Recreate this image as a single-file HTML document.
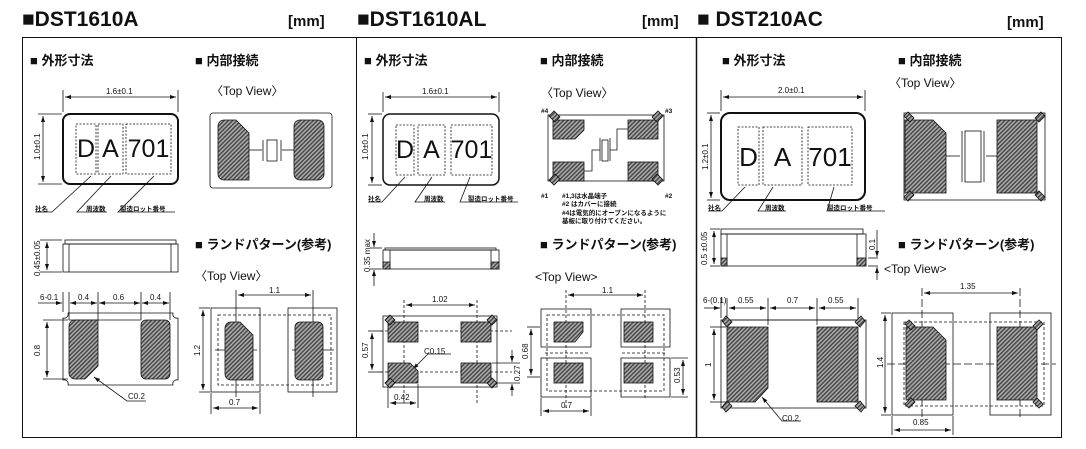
<!DOCTYPE html>
<html><head><meta charset="utf-8"><style>
html,body{margin:0;padding:0;background:#fff}
svg{display:block}
text{font-family:"Liberation Sans","Noto Sans CJK JP",sans-serif;fill:#111}
.t{font-size:21px;font-weight:bold}
.mm{font-size:15px;font-weight:bold}
.h{font-size:13px;font-weight:bold}
.tv{font-size:12px}
.d{font-size:8px}
.s{font-size:6.5px;font-weight:bold}
.big{font-size:25px;text-anchor:middle}
</style></head><body>
<svg width="1086" height="449" viewBox="0 0 1086 449" xmlns="http://www.w3.org/2000/svg">
<defs>
<pattern id="hp" width="3" height="3" patternUnits="userSpaceOnUse" patternTransform="rotate(45)">
<rect width="3" height="3" fill="#aaa"/><rect width="1.4" height="3" fill="#444"/>
</pattern>
<marker id="a" markerWidth="6" markerHeight="4" refX="6" refY="2" orient="auto-start-reverse" markerUnits="userSpaceOnUse"><path d="M0,0 L6,2 L0,4z" fill="#111"/></marker>
</defs>
<g stroke="#111" fill="none" stroke-width="1">
<rect x="22.5" y="37.5" width="1039" height="400" />
<line x1="356.5" y1="37" x2="356.5" y2="437"/>
<line x1="696.5" y1="37" x2="696.5" y2="437" stroke-width="1.5"/>
</g>
<text x="22" y="26" class="t">■DST1610A</text><text x="288" y="26" class="mm">[mm]</text>
<text x="357" y="26" class="t">■DST1610AL</text><text x="642" y="26" class="mm">[mm]</text>
<text x="697" y="26" class="t">■ DST210AC</text><text x="1007" y="27" class="mm">[mm]</text>

<text x="30" y="65" class="h">■ 外形寸法</text><text x="195" y="65" class="h">■ 内部接続</text>
<text x="364" y="65" class="h">■ 外形寸法</text><text x="540" y="65" class="h">■ 内部接続</text>
<text x="722" y="65" class="h">■ 外形寸法</text><text x="898" y="65" class="h">■ 内部接続</text>
<text x="195" y="249" class="h">■ ランドパターン(参考)</text>
<text x="540" y="249" class="h">■ ランドパターン(参考)</text>
<text x="898" y="249" class="h">■ ランドパターン(参考)</text>
<text x="211" y="95" class="tv">〈Top View〉</text>
<text x="195" y="280" class="tv">〈Top View〉</text>
<text x="541" y="97" class="tv">〈Top View〉</text>
<text x="535" y="281" class="tv">&lt;Top View&gt;</text>
<text x="889" y="87" class="tv">〈Top View〉</text>
<text x="884" y="273" class="tv">&lt;Top View&gt;</text>

<g stroke="#111" fill="none" stroke-width="0.8">
<rect x="63" y="114" width="115" height="70" rx="7" stroke-width="2"/>
<line x1="63" y1="90" x2="63" y2="112"/><line x1="178" y1="90" x2="178" y2="112"/>
<line x1="65" y1="97" x2="176" y2="97" marker-start="url(#a)" marker-end="url(#a)"/>
<line x1="38" y1="114" x2="62" y2="114"/><line x1="38" y1="184" x2="62" y2="184"/>
<line x1="43" y1="116" x2="43" y2="182" marker-start="url(#a)" marker-end="url(#a)"/>
<g stroke-dasharray="2,1.5"><rect x="76" y="124" width="20" height="50"/><rect x="98" y="124" width="25" height="50"/><rect x="126" y="124" width="45" height="50"/></g>
<path d="M91,176 L52,212 H35 M111,176 L77,212 H107 M154,176 L118,212 H175"/>
<rect x="63" y="244" width="115" height="28"/><rect x="65" y="240" width="111" height="4"/>
<line x1="69" y1="244" x2="69" y2="272"/><line x1="171" y1="244" x2="171" y2="272"/>
<line x1="40" y1="240" x2="62" y2="240"/><line x1="40" y1="272" x2="62" y2="272"/>
<line x1="47" y1="242" x2="47" y2="270" marker-start="url(#a)" marker-end="url(#a)"/>
<path d="M68,313 H173 A4,4 0 0 0 178,318 V380 A4,4 0 0 0 173,385 H68 A4,4 0 0 0 63,380 V318 A4,4 0 0 0 68,313Z"/>
<line x1="69" y1="320" x2="141" y2="320"/>
<line x1="63" y1="292" x2="63" y2="312"/><line x1="69" y1="292" x2="69" y2="320"/><line x1="98" y1="292" x2="98" y2="320"/><line x1="141" y1="292" x2="141" y2="320"/><line x1="170" y1="292" x2="170" y2="320"/>
<line x1="38" y1="303" x2="62" y2="303" marker-end="url(#a)"/>
<line x1="70" y1="303" x2="97" y2="303" marker-start="url(#a)" marker-end="url(#a)"/>
<line x1="99" y1="303" x2="140" y2="303" marker-start="url(#a)" marker-end="url(#a)"/>
<line x1="142" y1="303" x2="169" y2="303" marker-start="url(#a)" marker-end="url(#a)"/>
<line x1="43" y1="320" x2="68" y2="320"/><line x1="43" y1="379" x2="68" y2="379"/>
<line x1="47" y1="322" x2="47" y2="377" marker-start="url(#a)" marker-end="url(#a)"/>
<path d="M94,377 L127,401 H146" marker-start="url(#a)"/>
<rect x="210" y="113" width="122" height="75" rx="3"/>
<line x1="249" y1="150" x2="262" y2="150"/><line x1="282" y1="150" x2="294" y2="150"/>
<line x1="263" y1="140" x2="263" y2="161"/><line x1="281" y1="140" x2="281" y2="161"/><rect x="267" y="140" width="10" height="21"/>
<rect x="211" y="308" width="49" height="84"/><rect x="288" y="308" width="49" height="84"/>
<rect x="218" y="315" width="113" height="70" stroke-dasharray="3,2"/>
<line x1="236" y1="290" x2="236" y2="397"/><line x1="313" y1="290" x2="313" y2="397"/>
<line x1="215" y1="350" x2="257" y2="350"/><line x1="292" y1="350" x2="334" y2="350"/>
<line x1="238" y1="295" x2="311" y2="295" marker-start="url(#a)" marker-end="url(#a)"/>
<line x1="199" y1="308" x2="210" y2="308"/><line x1="199" y1="392" x2="210" y2="392"/>
<line x1="203" y1="310" x2="203" y2="390" marker-start="url(#a)" marker-end="url(#a)"/>
<line x1="211" y1="393" x2="211" y2="414"/><line x1="260" y1="393" x2="260" y2="414"/>
<line x1="213" y1="408" x2="258" y2="408" marker-start="url(#a)" marker-end="url(#a)"/>

<rect x="383" y="114" width="116" height="71" rx="7" stroke-width="1.5"/>
<line x1="383" y1="92" x2="383" y2="112"/><line x1="499" y1="92" x2="499" y2="112"/>
<line x1="385" y1="97" x2="497" y2="97" marker-start="url(#a)" marker-end="url(#a)"/>
<line x1="368" y1="114" x2="382" y2="114"/><line x1="368" y1="185" x2="382" y2="185"/>
<line x1="372" y1="116" x2="372" y2="183" marker-start="url(#a)" marker-end="url(#a)"/>
<g stroke-dasharray="2,1.5"><rect x="396" y="125" width="18" height="50"/><rect x="418" y="125" width="27" height="50"/><rect x="451" y="125" width="41" height="50"/></g>
<path d="M405,177 L382,202 H368 M432,177 L415,202 H445 M470,177 L460,202 H518"/>
<rect x="383" y="250" width="116" height="19"/><rect x="385" y="248" width="111" height="2"/>
<line x1="390" y1="250" x2="390" y2="269"/><line x1="491" y1="250" x2="491" y2="269"/>
<line x1="370" y1="248" x2="382" y2="248"/><line x1="370" y1="269" x2="382" y2="269"/>
<line x1="374" y1="233" x2="374" y2="247" marker-end="url(#a)"/><line x1="374" y1="286" x2="374" y2="270" marker-end="url(#a)"/>
<rect x="383" y="316" width="114" height="71"/>
<g stroke-dasharray="3,2"><line x1="404" y1="300" x2="404" y2="405"/><line x1="477" y1="300" x2="477" y2="405"/><line x1="380" y1="331" x2="512" y2="331"/><line x1="380" y1="372" x2="512" y2="372"/></g>
<line x1="406" y1="305" x2="475" y2="305" marker-start="url(#a)" marker-end="url(#a)"/>
<line x1="368" y1="331" x2="382" y2="331"/><line x1="368" y1="372" x2="382" y2="372"/>
<line x1="372" y1="333" x2="372" y2="370" marker-start="url(#a)" marker-end="url(#a)"/>
<line x1="492" y1="363" x2="520" y2="363"/><line x1="492" y1="383" x2="520" y2="383"/>
<line x1="512" y1="350" x2="512" y2="362" marker-end="url(#a)"/><line x1="512" y1="396" x2="512" y2="384" marker-end="url(#a)"/>
<line x1="388" y1="384" x2="388" y2="408"/><line x1="418" y1="384" x2="418" y2="408"/>
<line x1="390" y1="403" x2="416" y2="403" marker-start="url(#a)" marker-end="url(#a)"/>
<path d="M413,369 L428,354 H451" marker-start="url(#a)"/>
<rect x="548" y="115" width="116" height="66"/>
<path d="M584,171 H592 V150 H600 M610,150 H617 V129 H628"/>
<line x1="600" y1="138" x2="600" y2="161"/><line x1="610" y1="138" x2="610" y2="161"/><rect x="602" y="140" width="6" height="21"/>
<rect x="541" y="309" width="50" height="38"/><rect x="621" y="309" width="49" height="38"/>
<rect x="541" y="358" width="50" height="39"/><rect x="621" y="358" width="49" height="39"/>
<g stroke-dasharray="3,2"><rect x="547" y="315" width="117" height="76"/><line x1="566" y1="290" x2="566" y2="410"/><line x1="645" y1="290" x2="645" y2="400"/><line x1="545" y1="353" x2="590" y2="353"/><line x1="622" y1="353" x2="667" y2="353"/></g>
<line x1="568" y1="295" x2="643" y2="295" marker-start="url(#a)" marker-end="url(#a)"/>
<line x1="527" y1="327" x2="540" y2="327"/><line x1="527" y1="377" x2="540" y2="377"/>
<line x1="531" y1="329" x2="531" y2="375" marker-start="url(#a)" marker-end="url(#a)"/>
<line x1="671" y1="358" x2="688" y2="358"/><line x1="671" y1="397" x2="688" y2="397"/>
<line x1="683" y1="360" x2="683" y2="395" marker-start="url(#a)" marker-end="url(#a)"/>
<line x1="541" y1="398" x2="541" y2="416"/><line x1="591" y1="398" x2="591" y2="416"/>
<line x1="543" y1="411" x2="589" y2="411" marker-start="url(#a)" marker-end="url(#a)"/>

<rect x="721" y="113" width="144" height="87" rx="9" stroke-width="2"/>
<line x1="721" y1="90" x2="721" y2="111"/><line x1="865" y1="90" x2="865" y2="111"/>
<line x1="723" y1="97" x2="863" y2="97" marker-start="url(#a)" marker-end="url(#a)"/>
<line x1="707" y1="113" x2="720" y2="113"/><line x1="707" y1="200" x2="720" y2="200"/>
<line x1="711" y1="115" x2="711" y2="198" marker-start="url(#a)" marker-end="url(#a)"/>
<g stroke-dasharray="2,1.5"><rect x="738" y="127" width="21" height="58"/><rect x="763" y="127" width="39" height="58"/><rect x="808" y="127" width="44" height="58"/></g>
<path d="M745,187 L722,211 H708 M773,187 L758,211 H786 M834,187 L827,211 H885"/>
<rect x="721" y="234" width="145" height="32"/><rect x="721" y="229" width="142" height="5"/>
<line x1="727" y1="234" x2="727" y2="266"/><line x1="857" y1="234" x2="857" y2="266"/>
<line x1="710" y1="229" x2="720" y2="229"/><line x1="710" y1="266" x2="720" y2="266"/>
<line x1="714" y1="231" x2="714" y2="264" marker-start="url(#a)" marker-end="url(#a)"/>
<line x1="868" y1="258" x2="878" y2="258"/><line x1="868" y1="266" x2="878" y2="266"/>
<line x1="877" y1="230" x2="877" y2="257" marker-end="url(#a)"/><line x1="877" y1="280" x2="877" y2="267" marker-end="url(#a)"/>
<rect x="721" y="320" width="145" height="88"/>
<line x1="727" y1="320" x2="858" y2="320"/>
<line x1="721" y1="298" x2="721" y2="318"/><line x1="727" y1="298" x2="727" y2="320"/><line x1="768" y1="298" x2="768" y2="325"/><line x1="817" y1="298" x2="817" y2="325"/><line x1="858" y1="298" x2="858" y2="320"/>
<line x1="704" y1="308" x2="720" y2="308" marker-end="url(#a)"/>
<line x1="729" y1="308" x2="766" y2="308" marker-start="url(#a)" marker-end="url(#a)"/>
<line x1="770" y1="308" x2="815" y2="308" marker-start="url(#a)" marker-end="url(#a)"/>
<line x1="819" y1="308" x2="856" y2="308" marker-start="url(#a)" marker-end="url(#a)"/>
<line x1="710" y1="327" x2="726" y2="327"/><line x1="710" y1="402" x2="726" y2="402"/>
<line x1="714" y1="329" x2="714" y2="400" marker-start="url(#a)" marker-end="url(#a)"/>
<path d="M762,397 L782,421 H801" marker-start="url(#a)"/>
<rect x="904" y="113" width="141" height="87"/>
<line x1="946" y1="156" x2="960" y2="156"/><line x1="986" y1="156" x2="997" y2="156"/>
<line x1="962" y1="131" x2="962" y2="182"/><line x1="984" y1="131" x2="984" y2="182"/><rect x="965" y="131" width="16" height="51"/>
<rect x="892" y="313" width="61" height="102"/><rect x="990" y="313" width="61" height="102"/>
<rect x="904" y="322" width="140" height="84" stroke-dasharray="3,2"/>
<g stroke-dasharray="8,3"><line x1="922" y1="288" x2="922" y2="420"/><line x1="1020" y1="288" x2="1020" y2="420"/><line x1="887" y1="364" x2="1056" y2="364"/></g>
<line x1="924" y1="293" x2="1018" y2="293" marker-start="url(#a)" marker-end="url(#a)"/>
<line x1="881" y1="313" x2="891" y2="313"/><line x1="881" y1="415" x2="891" y2="415"/>
<line x1="885" y1="315" x2="885" y2="413" marker-start="url(#a)" marker-end="url(#a)"/>
<line x1="892" y1="416" x2="892" y2="435"/><line x1="953" y1="416" x2="953" y2="435"/>
<line x1="894" y1="430" x2="951" y2="430" marker-start="url(#a)" marker-end="url(#a)"/>
</g>

<g fill="url(#hp)" stroke="#111" stroke-width="0.8">
<path d="M224,120 H236 L249,133 V180 H224 A6,6 0 0 1 218,174 V126 A6,6 0 0 1 224,120Z"/>
<rect x="294" y="120" width="30" height="60" rx="6"/>
<path d="M75,320 H98 V366 L85,379 H75 A6,6 0 0 1 69,373 V326 A6,6 0 0 1 75,320Z"/>
<rect x="141" y="320" width="29" height="59" rx="5"/>
<path d="M231,322 H240 L253,335 V380 H231 A6,6 0 0 1 225,374 V328 A6,6 0 0 1 231,322Z"/>
<rect x="295" y="322" width="28" height="58" rx="5"/>
<rect x="383" y="262" width="7" height="7"/><rect x="491" y="262" width="8" height="7"/>
<rect x="388" y="322" width="30" height="20"/><rect x="461" y="322" width="30" height="20"/>
<path d="M388,363 H410 L418,371 V383 H388Z"/><rect x="461" y="363" width="30" height="20"/>
<path d="M385,320 l5,-5 l5,5 l-5,5z M497,320 l-5,-5 l-5,5 l5,5z M385,383 l5,5 l5,-5 l-5,-5z M497,383 l-5,5 l-5,-5 l5,-5z"/>
<path d="M553,120 H584 V130 L575,139 H553Z"/><rect x="628" y="120" width="30" height="19"/>
<rect x="553" y="162" width="31" height="19"/><rect x="628" y="162" width="30" height="19"/>
<path d="M549,116 l5,-5 l6,6 l-5,5z M663,116 l-5,-5 l-6,6 l5,5z M549,180 l5,5 l6,-6 l-5,-5z M663,180 l-5,5 l-6,-6 l5,-5z"/>
<path d="M554,322 H583 V332 L575,342 H554Z"/><rect x="624" y="322" width="29" height="20"/>
<rect x="554" y="363" width="29" height="20"/><rect x="624" y="363" width="29" height="20"/>
<rect x="721" y="258" width="6" height="8"/><rect x="857" y="258" width="9" height="8"/>
<path d="M727,327 H768 V388 L755,402 H727Z"/><rect x="817" y="327" width="41" height="75"/>
<path d="M722,321 l4,-5 l6,6 l-5,5z M865,321 l-4,-5 l-6,6 l5,5z M722,407 l4,5 l6,-6 l-5,-5z M865,407 l-4,5 l-6,-6 l5,-5z"/>
<path d="M905,120 H933 L946,133 V193 H905Z"/><rect x="997" y="120" width="40" height="73"/>
<path d="M904,116 l4,-4 l6,6 l-4,4z M1045,116 l-4,-4 l-6,6 l4,4z M904,197 l4,4 l6,-6 l-4,-4z M1045,197 l-4,4 l-6,-6 l4,-4z"/>
<path d="M906,327 H933 L946,340 V400 H906Z"/><rect x="997" y="327" width="40" height="73"/>
<path d="M905,324 l4,-4 l6,6 l-4,4z M1043,324 l-4,-4 l-6,6 l4,4z M905,404 l4,4 l6,-6 l-4,-4z M1043,404 l-4,4 l-6,-6 l4,-4z"/>
</g>

<text x="86" y="157" class="big">D</text><text x="110.5" y="157" class="big">A</text><text x="148.5" y="157" class="big">701</text>
<text x="405" y="158" class="big">D</text><text x="431.5" y="158" class="big">A</text><text x="471.5" y="158" class="big">701</text>
<text x="748.5" y="166" class="big" style="font-size:26px">D</text><text x="782.5" y="166" class="big" style="font-size:26px">A</text><text x="830" y="166" class="big" style="font-size:26px">701</text>

<g class="d">
<text x="106" y="94">1.6±0.1</text>
<text x="40" y="160" transform="rotate(-90 40 160)">1.0±0.1</text>
<text x="40" y="276" transform="rotate(-90 40 276)">0.45±0.05</text>
<text x="40" y="300">6-0.1</text><text x="78" y="300">0.4</text><text x="113" y="300">0.6</text><text x="150" y="300">0.4</text>
<text x="40" y="356" transform="rotate(-90 40 356)">0.8</text>
<text x="128" y="399">C0.2</text>
<text x="269" y="293">1.1</text>
<text x="200" y="356" transform="rotate(-90 200 356)">1.2</text>
<text x="229" y="405">0.7</text>
<text x="422" y="94">1.6±0.1</text>
<text x="368" y="160" transform="rotate(-90 368 160)">1.0±0.1</text>
<text x="370" y="272" transform="rotate(-90 370 272)">0.35 max</text>
<text x="432" y="302">1.02</text>
<text x="368" y="358" transform="rotate(-90 368 358)">0.57</text>
<text x="424" y="354">C0.15</text>
<text x="520" y="381" transform="rotate(-90 520 381)">0.27</text>
<text x="394" y="400">0.42</text>
<text x="602" y="293">1.1</text>
<text x="528" y="359" transform="rotate(-90 528 359)">0.68</text>
<text x="680" y="383" transform="rotate(-90 680 383)">0.53</text>
<text x="561" y="408">0.7</text>
<text x="778" y="93">2.0±0.1</text>
<text x="708" y="170" transform="rotate(-90 708 170)">1.2±0.1</text>
<text x="707" y="265" transform="rotate(-90 707 265)">0.5 ±0.05</text>
<text x="875" y="250" transform="rotate(-90 875 250)">0.1</text>
<text x="703" y="303">6-(0.1)</text><text x="738" y="303">0.55</text><text x="787" y="303">0.7</text><text x="828" y="303">0.55</text>
<text x="711" y="367" transform="rotate(-90 711 367)">1</text>
<text x="782" y="421">C0.2</text>
<text x="960" y="289">1.35</text>
<text x="883" y="368" transform="rotate(-90 883 368)">1.4</text>
<text x="913" y="425">0.85</text>
</g>
<g class="s">
<text x="35" y="211">社名</text><text x="86" y="211">周波数</text><text x="120" y="211">製造ロット番号</text>
<text x="368" y="201">社名</text><text x="424" y="201">周波数</text><text x="468" y="201">製造ロット番号</text>
<text x="708" y="210">社名</text><text x="765" y="210">周波数</text><text x="827" y="210">製造ロット番号</text>
<text x="541" y="113">#4</text><text x="665" y="113">#3</text><text x="541" y="198">#1</text><text x="665" y="198">#2</text>
<text x="562" y="198">#1,3は水晶端子</text>
<text x="562" y="206">#2 はカバーに接続</text>
<text x="562" y="215">#4は電気的にオープンになるように</text>
<text x="562" y="223">基板に取り付けてください。</text>
</g>
</svg>
</body></html>
